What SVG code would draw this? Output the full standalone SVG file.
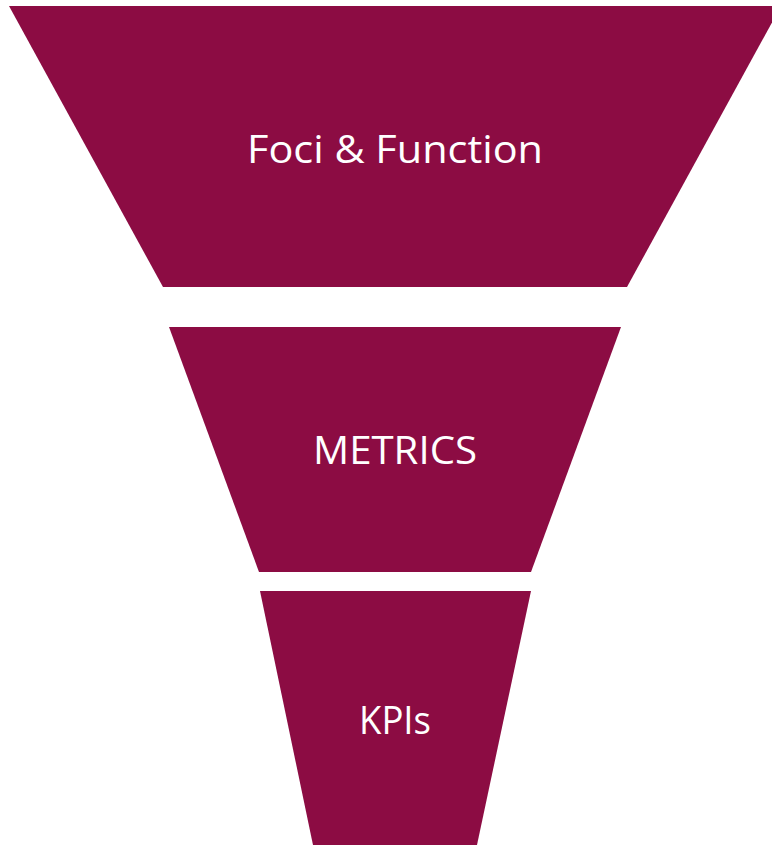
<svg xmlns="http://www.w3.org/2000/svg" width="772" height="845" viewBox="0 0 772 845">
  <style>
    .stage { fill: #8C0C43; }
    .label { fill: #FFFFFF; font-family: "Open Sans", "Liberation Sans", sans-serif; font-size: 39px; text-anchor: middle; }
  </style>
  <rect width="772" height="845" fill="#FFFFFF"/>
  <g id="stage-foci">
    <polygon class="stage" points="9,6 781,6 627,287 163,287"/>
    <text class="label" x="395" y="163" textLength="296" lengthAdjust="spacingAndGlyphs">Foci &amp; Function</text>
  </g>
  <g id="stage-metrics">
    <polygon class="stage" points="169,327 621,327 531,572 259,572"/>
    <text class="label" x="395" y="464" textLength="164" lengthAdjust="spacingAndGlyphs">METRICS</text>
  </g>
  <g id="stage-kpis">
    <polygon class="stage" points="260,591 531,591 477,845 313,845"/>
    <text class="label" x="395" y="734" textLength="72" lengthAdjust="spacingAndGlyphs">KPIs</text>
  </g>
  <g id="connectors"></g>
</svg>
